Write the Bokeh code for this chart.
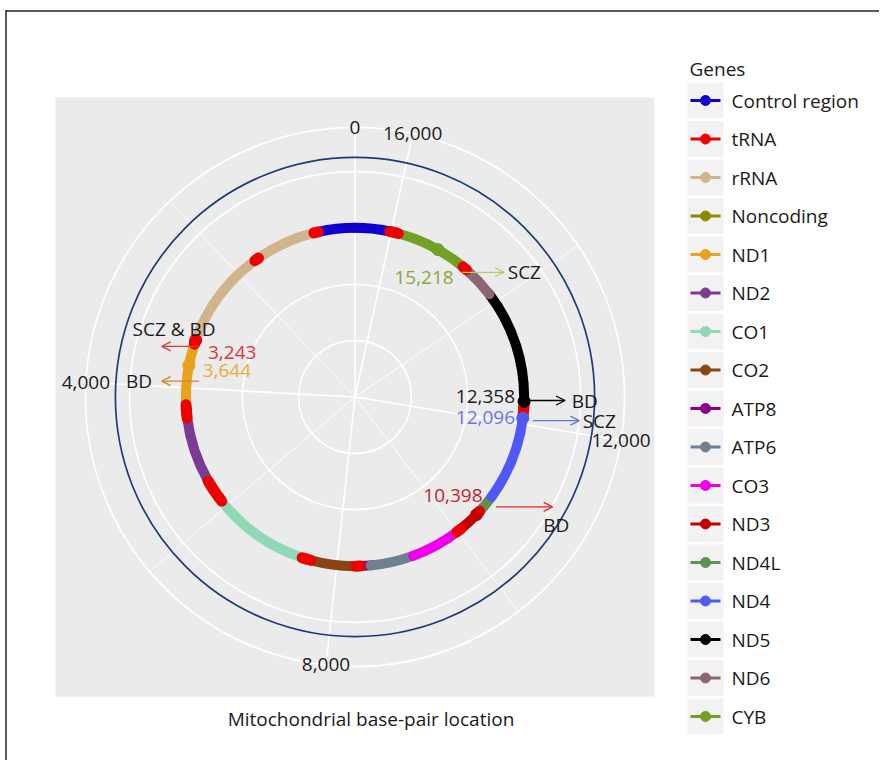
import math
from bokeh.plotting import figure
from bokeh.models import Range1d, Arrow, OpenHead
from bokeh.embed import file_html
from bokeh.resources import INLINE
from bokeh.core.properties import value

# ---------------- data ----------------
GENOME_LENGTH = 16569

genes = ["Control region", "tRNA", "rRNA", "Noncoding", "ND1", "ND2", "CO1", "CO2",
         "ATP8", "ATP6", "CO3", "ND3", "ND4L", "ND4", "ND5", "ND6", "CYB"]
gene_colors = ["#1000CD", "#EE0000", "#D2B48C", "#8B8B00", "#E8A31C", "#7B3B94",
               "#8FD9B6", "#8B4513", "#8B008B", "#708090", "#EE00EE", "#C40000",
               "#5F9150", "#5058F5", "#000000", "#8E6673", "#73A025"]

seg_gene = ["Control region", "Control region",
            "rRNA", "rRNA",
            "Noncoding", "Noncoding", "Noncoding",
            "ND1", "ND2", "CO1", "CO2", "ATP8", "ATP6", "CO3", "ND3", "ND4L",
            "ND4", "ND5", "ND6", "CYB"]
seg_start = [16024, 1, 648, 1671, 5730, 5892, 8270, 3307, 4470, 5904, 7586, 8366,
             8527, 9207, 10059, 10470, 10760, 12337, 14149, 14747]
seg_end = [16569, 576, 1601, 3229, 5760, 5903, 8294, 4262, 5511, 7445, 8269, 8572,
           9207, 9990, 10404, 10766, 12137, 14148, 14673, 15887]

trna_start = [577, 1602, 3230, 4263, 4329, 4402, 5512, 5587, 5657, 5761, 5826, 7446,
              7518, 8295, 9991, 10405, 12138, 12207, 12266, 14674, 15888, 15956]
trna_end = [647, 1670, 3304, 4331, 4400, 4469, 5579, 5655, 5729, 5826, 5891, 7514,
            7585, 8364, 10058, 10469, 12206, 12265, 12336, 14742, 15953, 16023]

ring_value = 3.0          # radial value of the gene track
outer_track_value = 4.25  # radial value of the navy reference circle (max of r scale)
radial_breaks = [1, 2, 3, 4]
theta_breaks = [0, 4000, 8000, 12000, 16000]
theta_labels = ["0", "4,000", "8,000", "12,000", "16,000"]
theta_minor = [2000, 6000, 10000, 14000]

variant_pos = [15218, 12358, 12096, 10398, 3243, 3644]
variant_label = ["15,218", "12,358", "12,096", "10,398", "3,243", "3,644"]
variant_gene = ["CYB", "ND5", "ND4", "ND3", "tRNA", "ND1"]
variant_trait = ["SCZ", "BD", "SCZ", "BD", "SCZ & BD", "BD"]

axis_title = "Mitochondrial base-pair location"
legend_title = "Genes"

# ---------------- layout / styles ----------------
FONT = value("Open Sans")
FS = "19px"
TXT = "#1A1A1A"
W, H = 879, 760
S = 599.0                       # panel size (px)
PANEL_LEFT, PANEL_TOP = 55.0, 97.0
CXp, CYp = PANEL_LEFT + S / 2, PANEL_TOP + S / 2
R_MAX = 0.4 * S
R_OUT = 0.45 * S


def px(cx):
    return cx - CXp


def py(cy):
    return CYp - cy


def rad(v):
    return v / outer_track_value * R_MAX


def ang(pos):
    return math.pi / 2 + 2 * math.pi * pos / GENOME_LENGTH


def xy(pos, r):
    a = ang(pos)
    return r * math.cos(a), r * math.sin(a)


color_of = dict(zip(genes, gene_colors))

p = figure(width=W, height=H, x_range=Range1d(-CXp, W - CXp),
           y_range=Range1d(CYp - H, CYp),
           output_backend="svg", toolbar_location=None, min_border=0)
p.axis.visible = False
p.grid.visible = False
p.outline_line_color = None
p.background_fill_color = "white"
p.border_fill_color = "white"

# picture frame (top and left edges)
p.segment(x0=[px(5), px(5.5)], y0=[py(10.5), py(10)], x1=[px(W + 5), px(5.5)],
          y1=[py(10.5), py(H + 5)], line_color="#222222", line_width=1.5)

# panel
p.quad(left=[-S / 2], right=[S / 2], bottom=[-S / 2], top=[S / 2],
       fill_color="#EBEBEB", line_color=None)

# theta grid (minor then major)
mx = [xy(t, R_OUT) for t in theta_minor]
p.segment(x0=[0] * len(mx), y0=[0] * len(mx), x1=[a for a, b in mx], y1=[b for a, b in mx],
          line_color="white", line_width=0.9)
Mx = [xy(t, R_OUT) for t in theta_breaks]
p.segment(x0=[0] * len(Mx), y0=[0] * len(Mx), x1=[a for a, b in Mx], y1=[b for a, b in Mx],
          line_color="white", line_width=1.7)

# radial grid circles + outer circle
p.circle(x=[0] * (len(radial_breaks) + 1), y=[0] * (len(radial_breaks) + 1),
         radius=[rad(v) for v in radial_breaks] + [R_OUT],
         fill_color=None, line_color="white", line_width=1.7)

# navy reference track
p.circle(x=[0], y=[0], radius=[rad(outer_track_value)], fill_color=None,
         line_color="#1E3A78", line_width=1.7)

# gene track
R_RING = rad(ring_value)
p.arc(x=[0] * len(seg_start), y=[0] * len(seg_start), radius=R_RING,
      start_angle=[ang(s) for s in seg_start], end_angle=[ang(e) for e in seg_end],
      direction="anticlock", line_color=[color_of[g] for g in seg_gene],
      line_width=10, line_cap="round")
p.arc(x=[0] * len(trna_start), y=[0] * len(trna_start), radius=R_RING,
      start_angle=[ang(s) for s in trna_start], end_angle=[ang(e) for e in trna_end],
      direction="anticlock", line_color=color_of["tRNA"], line_width=11, line_cap="round")

# variant points
vx = [xy(v, R_RING) for v in variant_pos]
p.scatter(x=[a for a, b in vx], y=[b for a, b in vx], size=12,
          color=[color_of[g] for g in variant_gene])

# theta labels
tl = [xy(t, R_OUT) for t in theta_breaks]
p.text(x=[a for a, b in tl], y=[b for a, b in tl], text=theta_labels, text_font=FONT,
       text_font_size=FS, text_color=TXT, text_align="center", text_baseline="middle")

# annotations: (arrow offset dx, dy from ring point, arrow length,
#               label offset from arrow start, label align,
#               trait offset from arrow end, trait align, label colour, arrow colour)
ann_layout = [
    (24.5, 22.7, 41.6, (-8.7, 5.7), "right", (3.7, 0.0), "left", "#88A83A", "#A9CF70"),
    (3.0, -0.9, 38.0, (-12.0, -4.0), "right", (6.7, 0.0), "left", "#1A1A1A", "#000000"),
    (9.9, 2.4, 46.6, (-17.7, -3.3), "right", (3.4, 0.0), "left", "#6F73F2", "#5B7BD5"),
    (19.4, -7.8, 56.7, (-13.3, -11.0), "right", (3.6, 18.0), "center", "#C41E2A", "#E8262A"),
    (4.4, 5.9, -38.3, (8.0, 5.7), "left", (12.3, -17.0), "center", "#E4323C", "#E23A3A"),
    (10.1, 15.9, -37.3, (3.7, -10.7), "left", (-9.7, 0.0), "right", "#E9AC3A", "#D9822B"),
]
for (pos, lab, trait, lay) in zip(variant_pos, variant_label, variant_trait, ann_layout):
    dx, dy, length, loff, lal, toff, tal, lcol, acol = lay
    rx, ry = xy(pos, R_RING)
    sx, sy = CXp + rx + dx, CYp - ry + dy      # canvas coords of arrow start
    ex = sx + length
    p.add_layout(Arrow(end=OpenHead(size=9, line_color=acol, line_width=1.3),
                       x_start=px(sx), y_start=py(sy), x_end=px(ex), y_end=py(sy),
                       line_color=acol, line_width=1.3))
    p.text(x=[px(sx + loff[0])], y=[py(sy + loff[1])], text=[lab], text_font=FONT,
           text_font_size=FS, text_color=lcol, text_align=lal, text_baseline="middle")
    p.text(x=[px(ex + toff[0])], y=[py(sy + toff[1])], text=[trait], text_font=FONT,
           text_font_size=FS, text_color=TXT, text_align=tal, text_baseline="middle")

# axis title
p.text(x=[px(370.5)], y=[py(718)], text=[axis_title], text_font=FONT, text_font_size=FS,
       text_color=TXT, text_align="center", text_baseline="middle")

# legend
KEY_X, KEY_Y0, KEY_STEP, KEY_SIZE = 705.0, 100.0, 38.5, 36.0
ky = [py(KEY_Y0 + i * KEY_STEP) for i in range(len(genes))]
p.text(x=[px(689)], y=[py(68)], text=[legend_title], text_font=FONT, text_font_size=FS,
       text_color=TXT, text_align="left", text_baseline="middle")
p.rect(x=[px(KEY_X)] * len(genes), y=ky, width=KEY_SIZE, height=KEY_SIZE,
       fill_color="#F2F2F2", line_color=None)
p.segment(x0=[px(KEY_X - 15)] * len(genes), y0=ky, x1=[px(KEY_X + 15)] * len(genes), y1=ky,
          line_color=gene_colors, line_width=3)
p.scatter(x=[px(KEY_X)] * len(genes), y=ky, size=10, color=gene_colors)
p.text(x=[px(731)] * len(genes), y=ky, text=genes, text_font=FONT, text_font_size=FS,
       text_color=TXT, text_align="left", text_baseline="middle")

open("out.html", "w").write(file_html(p, INLINE))
